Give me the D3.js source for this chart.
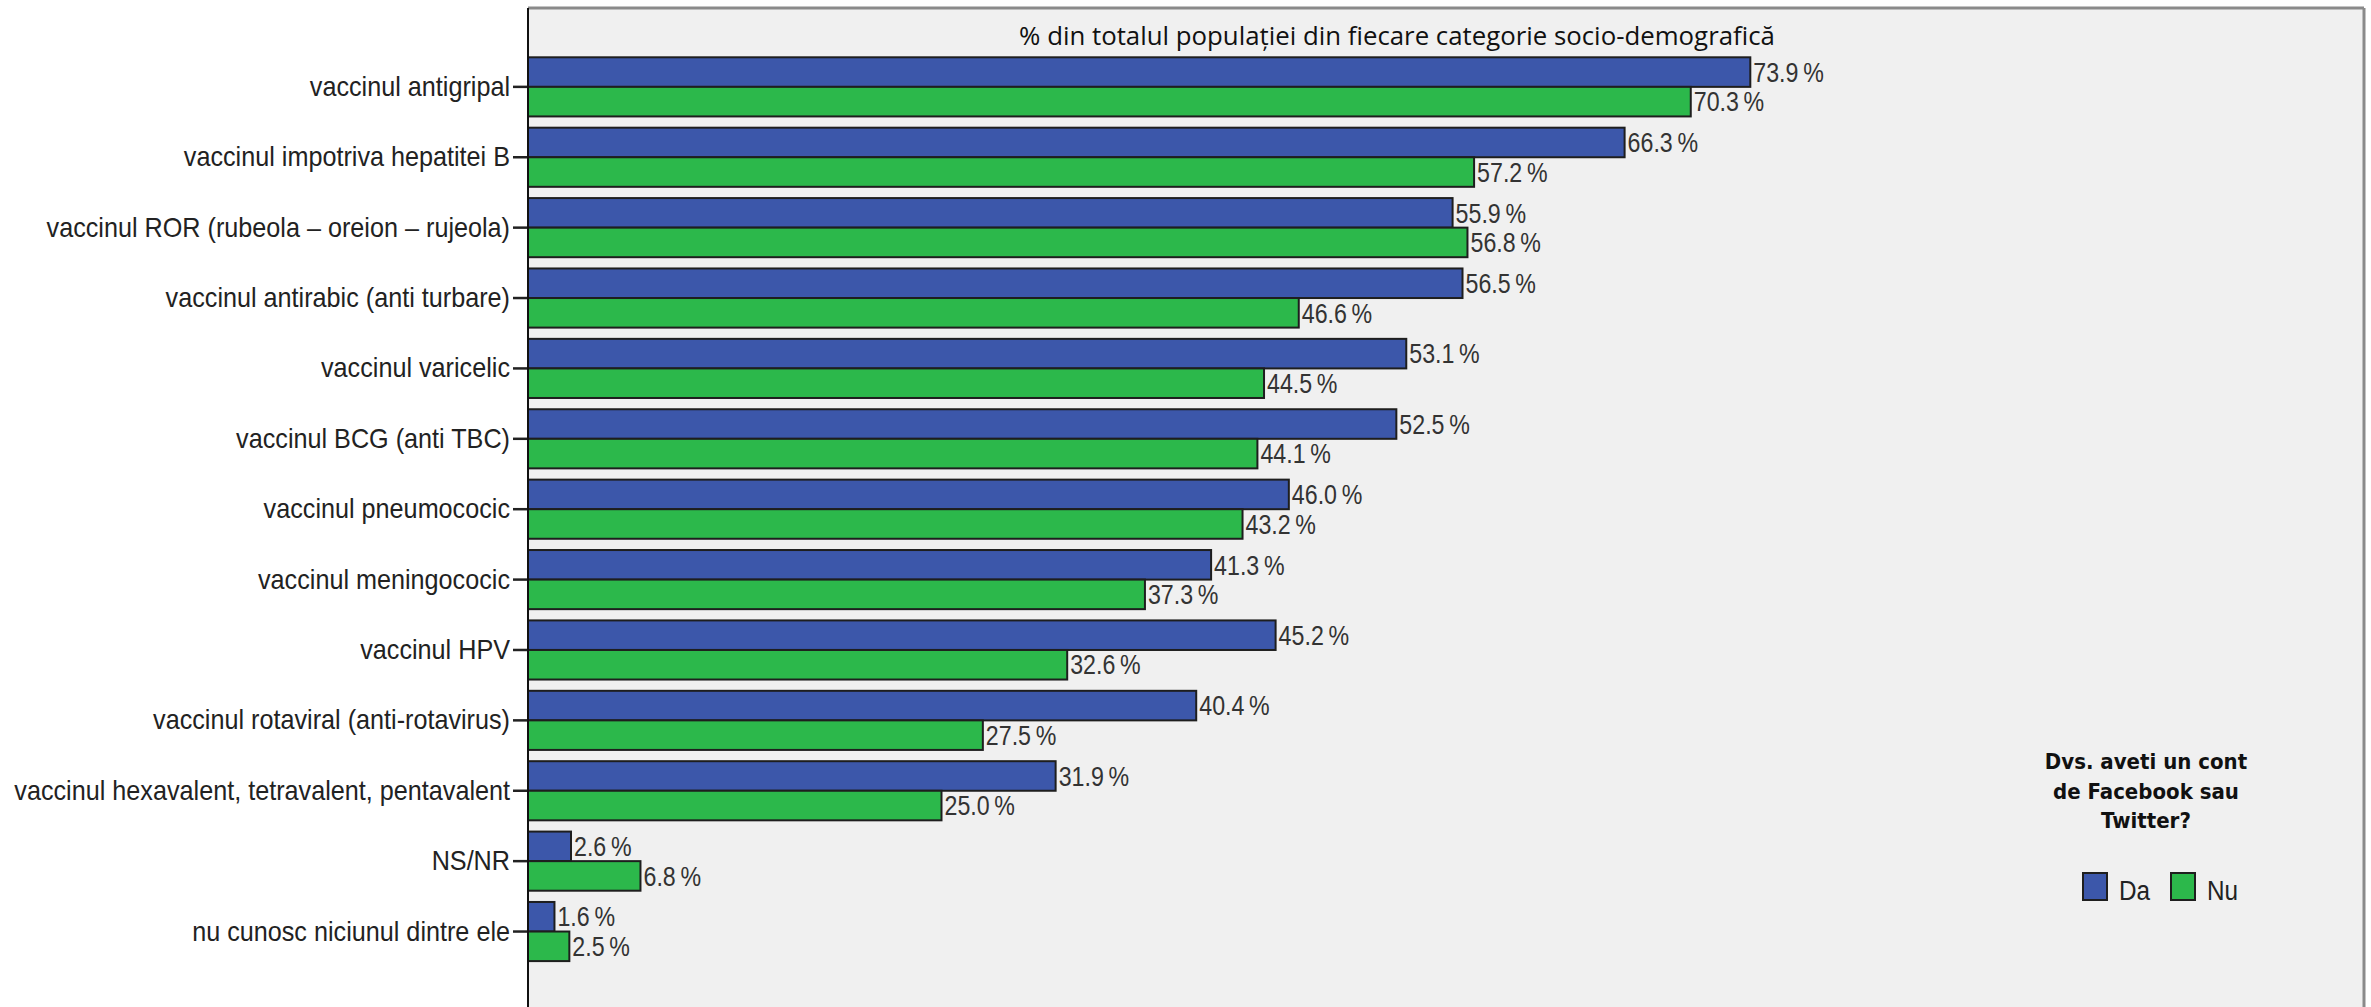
<!DOCTYPE html>
<html>
<head>
<meta charset="utf-8">
<script src="https://cdn.jsdelivr.net/npm/d3@7/dist/d3.min.js"></script>
<style>
  html, body { margin: 0; padding: 0; background: #ffffff; }
  svg { display: block; }
</style>
</head>
<body>
<svg id="chart" width="2371" height="1007"></svg>
<script>
const categories = [
  "vaccinul antigripal",
  "vaccinul impotriva hepatitei B",
  "vaccinul ROR (rubeola – oreion – rujeola)",
  "vaccinul antirabic (anti turbare)",
  "vaccinul varicelic",
  "vaccinul BCG (anti TBC)",
  "vaccinul pneumococic",
  "vaccinul meningococic",
  "vaccinul HPV",
  "vaccinul rotaviral (anti-rotavirus)",
  "vaccinul hexavalent, tetravalent, pentavalent",
  "NS/NR",
  "nu cunosc niciunul dintre ele"
];
const seriesNames = ["Da", "Nu"];
const valuesDa = [73.9, 66.3, 55.9, 56.5, 53.1, 52.5, 46.0, 41.3, 45.2, 40.4, 31.9, 2.6, 1.6];
const valuesNu = [70.3, 57.2, 56.8, 46.6, 44.5, 44.1, 43.2, 37.3, 32.6, 27.5, 25.0, 6.8, 2.5];
const colors = ["#3c57aa", "#2cb84b"];
const titleText = "% din totalul populației din fiecare categorie socio-demografică";
const legendTitle = ["Dvs. aveti un cont", "de Facebook sau", "Twitter?"];

const svg = d3.select("#chart");
const plot = { left: 528, right: 2364, top: 8, bottom: 1007 };
const LABEL_SX = 0.9;
const VAL_SX = 0.86;
const narrowFont = "'Liberation Sans', Arial, sans-serif";

svg.append("rect")
  .attr("x", plot.left).attr("y", plot.top)
  .attr("width", plot.right - plot.left).attr("height", plot.bottom - plot.top)
  .attr("fill", "#f0f0f0");

const x = d3.scaleLinear().domain([0, 100]).range([plot.left, plot.left + 1654]);
const y = d3.scaleBand().domain(categories).range([57.3, 961.1]).paddingInner(0.16).paddingOuter(0);
const ySub = d3.scaleBand().domain(seriesNames).range([0, y.bandwidth()]).padding(0);

const rows = categories.map((c, i) => ({ cat: c, vals: [valuesDa[i], valuesNu[i]] }));

const groups = svg.append("g").selectAll("g.cat").data(rows).join("g")
  .attr("class", "cat")
  .attr("transform", d => `translate(0,${y(d.cat)})`);

const items = d => d.vals.map((v, j) => ({ v, s: seriesNames[j], j }));

groups.selectAll("rect").data(items).join("rect")
  .attr("x", x(0))
  .attr("y", d => ySub(d.s))
  .attr("width", d => x(d.v) - x(0))
  .attr("height", ySub.bandwidth())
  .attr("fill", d => colors[d.j])
  .attr("stroke", "#1e1e1e")
  .attr("stroke-width", 2);

groups.selectAll("text.val").data(items).join("text")
  .attr("class", "val")
  .attr("transform", d => `translate(${x(d.v) + 3},${ySub(d.s) + ySub.bandwidth() / 2}) scale(${VAL_SX},1)`)
  .attr("dy", "0.36em")
  .attr("font-family", narrowFont)
  .attr("font-size", 27)
  .attr("fill", "#333")
  .text(d => d.v.toFixed(1) + "\u2009%");

// y axis
const yAxis = d3.axisLeft(y).tickSize(15).tickPadding(3);
const ax = svg.append("g").attr("transform", `translate(${plot.left},0)`).call(yAxis);
ax.select(".domain").remove();
ax.selectAll(".tick line").attr("stroke", "#222").attr("stroke-width", 2.5);
ax.selectAll(".tick text")
  .attr("x", -18 / LABEL_SX)
  .attr("transform", `scale(${LABEL_SX},1)`)
  .attr("font-family", narrowFont)
  .attr("font-size", 28)
  .attr("fill", "#222");

// borders
svg.append("line").attr("x1", plot.left).attr("x2", plot.right).attr("y1", plot.top).attr("y2", plot.top)
  .attr("stroke", "#8a8a8a").attr("stroke-width", 3);
svg.append("line").attr("x1", plot.right).attr("x2", plot.right).attr("y1", plot.top).attr("y2", plot.bottom)
  .attr("stroke", "#8a8a8a").attr("stroke-width", 3);
svg.append("line").attr("x1", plot.left).attr("x2", plot.left).attr("y1", plot.top).attr("y2", plot.bottom)
  .attr("stroke", "#111").attr("stroke-width", 2);

// title
svg.append("text")
  .attr("x", 1397).attr("y", 45)
  .attr("text-anchor", "middle")
  .attr("font-family", "'Open Sans', 'Noto Sans', sans-serif")
  .attr("font-size", 25.8)
  .attr("fill", "#111")
  .text(titleText);

// legend
const lg = svg.append("g");
lg.selectAll("text.lt").data(legendTitle).join("text")
  .attr("class", "lt")
  .attr("x", 2146)
  .attr("y", (d, i) => 769 + i * 29.5)
  .attr("text-anchor", "middle")
  .attr("font-family", "'DejaVu Sans', sans-serif")
  .attr("font-stretch", "condensed")
  .attr("font-weight", "bold")
  .attr("font-size", 22)
  .attr("fill", "#111")
  .text(d => d);

const legX = [2083, 2171];
const li = lg.selectAll("g.li").data(seriesNames).join("g").attr("class", "li")
  .attr("transform", (d, i) => `translate(${legX[i]},873)`);
li.append("rect").attr("width", 24).attr("height", 27)
  .attr("fill", (d, i) => colors[i]).attr("stroke", "#1e1e1e").attr("stroke-width", 2);
li.append("text")
  .attr("transform", "translate(36,27) scale(0.9,1)")
  .attr("font-family", narrowFont)
  .attr("font-size", 27)
  .attr("fill", "#222")
  .text(d => d);
</script>
</body>
</html>
